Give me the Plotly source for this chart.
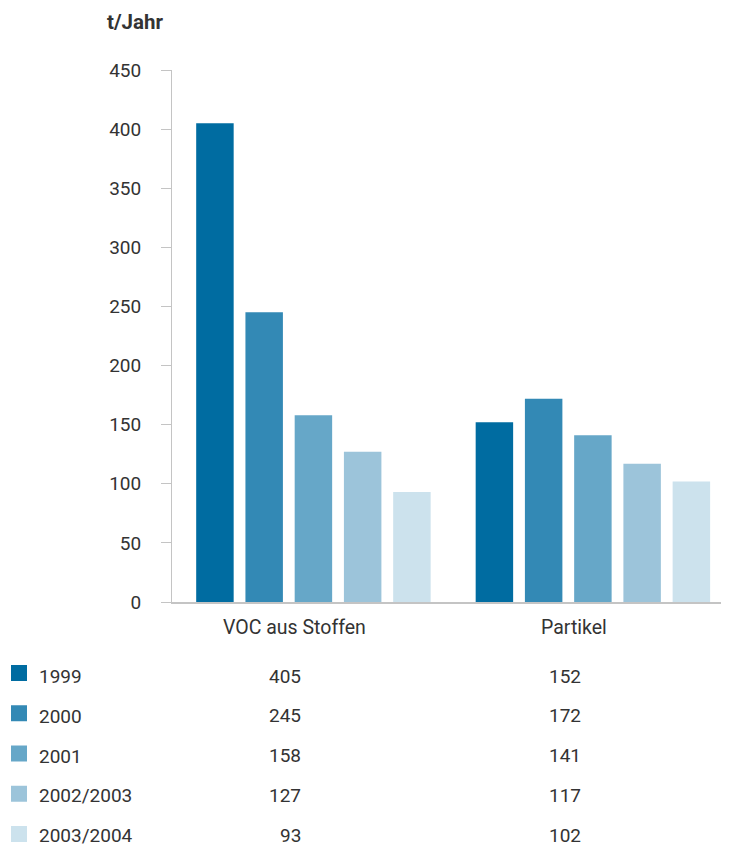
import plotly.graph_objects as go

categories = ["VOC aus Stoffen", "Partikel"]
series_names = ["1999", "2000", "2001", "2002/2003", "2003/2004"]
voc_values = [405, 245, 158, 127, 93]
partikel_values = [152, 172, 141, 117, 102]
colors = ["#006ca1", "#3389b5", "#66a7c8", "#9cc4da", "#cce2ed"]
y_ticks = [0, 50, 100, 150, 200, 250, 300, 350, 400, 450]
y_title = "t/Jahr"

FONT = "Roboto"
TXT = "#333333"
AX = "#c4c4c4"

OFF = 8  # page body margin
W, H = 729 - OFF, 847 - OFF
L, R, T, B = 172 - OFF, 0, 70 - OFF, 847 - 602
PW, PH = W - L - R, H - T - B


def px_x(p):
    return (p - OFF - L) / PW


def px_y(p):
    return (H - B - (p - OFF)) / PH


fig = go.Figure()
for i, name in enumerate(series_names):
    fig.add_trace(go.Bar(
        x=categories,
        y=[voc_values[i], partikel_values[i]],
        name=name,
        marker=dict(color=colors[i], line=dict(width=0)),
        showlegend=False,
        hoverinfo="skip",
    ))

annotations = []
shapes = []
# title
annotations.append(dict(text="<b>" + y_title + "</b>", xref="paper", yref="paper",
                        x=px_x(105), y=px_y(22), xanchor="left", yanchor="middle",
                        showarrow=False, font=dict(family=FONT, size=20.5, color=TXT)))

# table / legend
for i, name in enumerate(series_names):
    sq_c = 673 + i * 40.25
    shapes.append(dict(type="rect", xref="paper", yref="paper",
                       x0=px_x(11), x1=px_x(27), y0=px_y(sq_c + 8), y1=px_y(sq_c - 8),
                       fillcolor=colors[i], line=dict(width=0)))
    txt_c = 676.5 + i * 39.8
    annotations.append(dict(text=name, xref="paper", yref="paper",
                            x=px_x(38), y=px_y(txt_c), xanchor="left", yanchor="middle",
                            showarrow=False, borderpad=0,
                            font=dict(family=FONT, size=19, color=TXT)))
    for cat, vals in zip(categories, [voc_values, partikel_values]):
        annotations.append(dict(text=str(vals[i]), xref="x", yref="paper",
                                x=cat, xshift=-11, y=px_y(txt_c - 0.5),
                                xanchor="right", yanchor="middle", showarrow=False,
                                borderpad=0,
                                font=dict(family=FONT, size=19, color=TXT)))

fig.update_layout(
    width=W, height=H, autosize=False,
    margin=dict(l=L, r=R, t=T, b=B, pad=0),
    paper_bgcolor="white", plot_bgcolor="white",
    barmode="group", bargap=0.119, bargroupgap=0.239,
    font=dict(family=FONT, size=19, color=TXT),
    annotations=annotations, shapes=shapes,
    showlegend=False,
)
fig.update_xaxes(
    type="category", range=[-0.506, 1.487],
    showline=True, linecolor=AX, linewidth=2,
    ticks="", showgrid=False, zeroline=False,
    ticklabelshift=-19, ticklabelstandoff=7,
    tickfont=dict(family=FONT, size=19.5, color=TXT),
)
fig.update_yaxes(
    range=[0, 450], tickvals=y_ticks,
    showline=True, linecolor=AX, linewidth=1,
    ticks="outside", ticklen=10, tickcolor=AX, tickwidth=1,
    showgrid=False, zeroline=False,
    ticklabelstandoff=16,
    tickfont=dict(family=FONT, size=19, color=TXT),
)

fig.write_html("out.html")
